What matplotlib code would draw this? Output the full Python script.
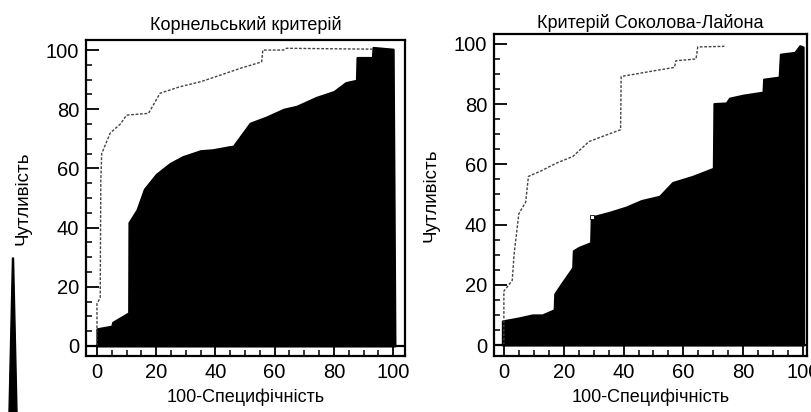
import matplotlib
matplotlib.use("Agg")
import matplotlib.pyplot as plt
from matplotlib.patches import Polygon
from matplotlib.ticker import MultipleLocator

plt.rcParams['font.family'] = ['Liberation Sans', 'DejaVu Sans']

# --- data ---
titles = ["Корнельський критерій", "Критерій Соколова-Лайона"]
x_label = "100-Специфічність"
y_label = "Чутливість"
ticks = [0, 20, 40, 60, 80, 100]

# Cornell: lower bound (black area) and upper bound (dotted)
cornell_low_x = [0, 5, 5.3, 10.7, 10.8, 13.5, 16, 20, 24.7, 29, 35, 39, 45, 46,
                 51.7, 57.3, 63, 67.4, 74, 80, 84, 87.6, 87.8, 93, 93.2, 100, 100.6]
cornell_low_y = [5.8, 6.7, 8, 11.2, 41.7, 46, 53, 58, 61.7, 64, 66, 66.3, 67.4, 67.5,
                 75.3, 77.4, 80, 81, 84, 86, 89, 89.8, 97.5, 97.5, 100.9, 100.3, 1]
cornell_up_x = [0, 0, 1.1, 1.3, 1.6, 4.5, 7.9, 10, 13.5, 17.4, 21.3, 28, 35, 41.6,
                48.3, 55.6, 56, 63, 64, 93]
cornell_up_y = [0, 14.3, 16.3, 56, 65, 72, 75, 78, 78.3, 78.6, 85.4, 87.6, 89.3, 91.5,
                93.8, 96, 100, 100, 100.6, 100.3]

# Sokolow-Lyon
sokol_low_x = [-0.5, 5, 9.5, 12.8, 16.8, 17, 19, 23, 23.2, 25, 29, 29.2, 35, 40.8, 46,
               52, 56.4, 58.7, 63, 70, 70.2, 74.3, 75.4, 80, 86.6, 86.8, 92, 92.4,
               97.2, 98.9, 100, 100.2]
sokol_low_y = [8, 9, 10, 10, 11.7, 17, 20, 25.7, 31.3, 32.4, 34, 42.5, 44, 45.8, 48,
               49.4, 54, 54.7, 56, 58.7, 80.2, 80.4, 82, 83, 84, 88.3, 89, 96.6,
               97.2, 99.4, 99, 0]
sokol_up_x = [0, 0, 1.7, 2.8, 3.4, 5, 7.3, 8.2, 12.8, 17.3, 23, 28.5, 33, 39, 39.2,
              44, 49.7, 57, 57.5, 64.2, 64.8, 73.7]
sokol_up_y = [0, 17.9, 20, 21.5, 30, 43.6, 47.5, 56, 58, 60.3, 62.6, 67.6, 69.3, 71.5,
              89.2, 90, 91, 92.2, 94.4, 95, 99, 99.2]
sokol_marker = ([29.5], [42.5])

W, H = 811, 412
fig = plt.figure(figsize=(W / 100, H / 100), dpi=100)

ax1 = fig.add_axes([86 / W, 1 - 356 / H, 319 / W, 316 / H])
ax2 = fig.add_axes([494 / W, 1 - 356 / H, 313 / W, 322 / H])


def style(ax, title, xlim, ylim, pad):
    ax.set_xlim(*xlim)
    ax.set_ylim(*ylim)
    ax.set_xticks(ticks)
    ax.set_yticks(ticks)
    ax.xaxis.set_minor_locator(MultipleLocator(5))
    ax.yaxis.set_minor_locator(MultipleLocator(5))
    ax.tick_params(which='major', direction='in', length=9, width=1.3,
                   labelsize=14.5, pad=5, top=False, right=False)
    ax.tick_params(which='minor', direction='in', length=4.5, width=1.1,
                   top=False, right=False)
    for s in ax.spines.values():
        s.set_linewidth(1.6)
    ax.axhline(0, color='black', lw=1.6)
    ax.set_title(title, fontsize=13, pad=pad)
    ax.set_xlabel(x_label, fontsize=13, labelpad=5)
    ax.set_ylabel(y_label, fontsize=13.5, labelpad=10)


# left panel
ax1.fill_between(cornell_low_x, cornell_low_y, 0, color='black', lw=1.5,
                 edgecolor='black')
ax1.plot(cornell_up_x, cornell_up_y, color='#444444', lw=1.0,
         linestyle=(0, (2, 1.2)))
style(ax1, titles[0], (-3.7, 104), (-3.4, 103.4), 7)

# right panel
ax2.fill_between(sokol_low_x, sokol_low_y, 0, color='black', lw=1.5,
                 edgecolor='black')
ax2.plot(sokol_up_x, sokol_up_y, color='#444444', lw=1.0,
         linestyle=(0, (2, 1.2)))
ax2.plot(*sokol_marker, marker='s', ms=3.5, mfc='white', mec='black',
         mew=0.6, ls='none')
style(ax2, titles[1], (-3.3, 101.3), (-3.65, 103.3), 4)

# scanner shadow at the left edge of the page (display pixels, origin bottom-left)
shadow = Polygon([(12.5, H - 258), (13.5, H - 258), (17, 0), (9, 0)],
                 closed=True, color='black', transform=None)
fig.patches.append(shadow)

fig.savefig("out.png", dpi=100)
